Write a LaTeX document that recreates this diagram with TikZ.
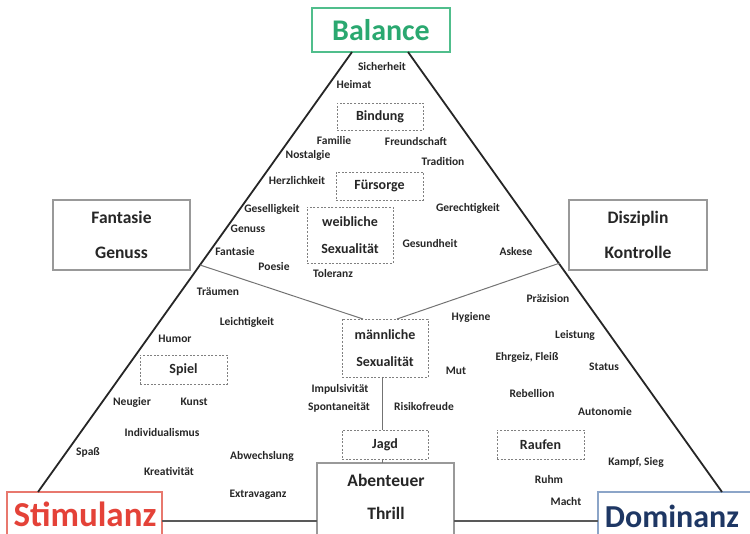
\documentclass[tikz,border=0pt]{standalone}
\usepackage{fontspec}
\setmainfont{Carlito}
\definecolor{balg}{RGB}{42,168,112}
\definecolor{balb}{RGB}{80,190,140}
\definecolor{stimr}{RGB}{228,66,56}
\definecolor{stimb}{RGB}{232,120,110}
\definecolor{domt}{RGB}{30,55,100}
\definecolor{domb}{RGB}{140,165,200}
\tikzset{
  word/.style={font=\bfseries\fontsize{11.5}{13}\selectfont, inner sep=0pt, text height=0.68em, text depth=0.2em, text=black!85},
  dbox/.style={draw=black!50, dash pattern=on 2pt off 1.6pt, line width=0.8pt, minimum width=86pt, font=\bfseries\fontsize{14}{27}\selectfont, align=center, text=black!85, inner sep=0pt},
  gbox/.style={draw=black!40, line width=1.4pt, fill=white, minimum width=137pt, minimum height=70pt, font=\bfseries\fontsize{17.5}{35}\selectfont, align=center, text=black!85, inner sep=0pt},
  edge/.style={line width=1.8pt, draw=black!85},
  divider/.style={line width=1pt, draw=black!55},
}
\begin{document}
\begin{tikzpicture}[x=1pt,y=-1pt]
\useasboundingbox (0,0) rectangle (750,534);
\begin{scope}
\clip (0,0) rectangle (750,534);
% title boxes
\node[draw=balb, line width=2pt, minimum width=138pt, minimum height=44pt, inner sep=0pt,
      font=\bfseries\fontsize{30}{32}\selectfont, text=balg] (bal) at (381,30) {Balance};
\node[draw=stimb, line width=1.8pt, fill=white, minimum width=155pt, minimum height=54pt, inner sep=0pt] (stim) at (84.5,519) {};
\node[draw=domb, line width=1.8pt, fill=white, minimum width=157pt, minimum height=54pt, inner sep=0pt] (dom) at (676.5,519) {};
% grey boxes
\node[gbox] (fg) at (121.5,235) {Fantasie\\Genuss};
\node[gbox, minimum width=138pt] (dk) at (638,235) {Disziplin\\Kontrolle};
\node[gbox, minimum height=82pt] (abt) at (385.5,504) {};
\end{scope}
\node[font=\bfseries\fontsize{35}{36}\selectfont, text=stimr, inner sep=0pt, anchor=base] (stimtext) at (85,526) {Stimulanz};
\node[font=\bfseries\fontsize{32}{34}\selectfont, text=domt, inner sep=0pt, anchor=base] (domtext) at (672,527) {Dominanz};
\node[font=\bfseries\fontsize{17.5}{35}\selectfont, text=black!85, inner sep=0pt] (abtt) at (386,480) {Abenteuer};
\node[font=\bfseries\fontsize{17.5}{35}\selectfont, text=black!85, inner sep=0pt] (thr) at (386,513) {Thrill};
% dashed boxes
\node[dbox, minimum height=27pt] (bind) at (380,116.5) {Bindung};
\node[dbox, minimum height=28pt, minimum width=87pt] (fuer) at (379.5,186) {Fürsorge};
\node[dbox, minimum height=56pt] (weib) at (350,235) {weibliche\\Sexualität};
\node[dbox, minimum height=58pt] (maen) at (385,348) {männliche\\Sexualität};
\node[dbox, minimum height=29pt, minimum width=87pt] (spiel) at (183.5,369.5) {Spiel};
\node[dbox, minimum height=29pt] (jagd) at (385,444.5) {Jagd};
\node[dbox, minimum height=29pt, minimum width=87pt] (rauf) at (540.5,444.5) {Raufen};
% corner coordinates of the triangle
\coordinate (tl) at (352,52);
\coordinate (tr) at (408,52);
\coordinate (bl) at (38,492);
\coordinate (br) at (722,492);
\coordinate (dl) at (200,265);
\coordinate (dr) at (560,263);
\coordinate (ml) at (363,319);
\coordinate (mr) at (397,319);
\coordinate (mb) at (382,377);
\coordinate (jt) at (382,430);
\coordinate (jb) at (382,459);
\coordinate (at) at (382,463);
\coordinate (sl) at (162,521);
\coordinate (al) at (317,521);
\coordinate (ar) at (454,521);
\coordinate (dlft) at (598,521);
\draw[edge] (tl) -- (bl);
\draw[edge] (tr) -- (br);
\draw[line width=2.6pt, draw=black!65] (sl) -- (al);
\draw[line width=2.6pt, draw=black!65] (ar) -- (dlft);
\draw[divider] (dl) -- (ml);
\draw[divider] (dr) -- (mr);
\draw[divider] (mb) -- (jt);
\draw[divider] (jb) -- (at);
% words
\node[word] (w1) at (382,68) {Sicherheit};
\node[word] (w2) at (354,86) {Heimat};
\node[word] (w3) at (334,142) {Familie};
\node[word] (w4) at (416,143) {Freundschaft};
\node[word] (w5) at (308,156) {Nostalgie};
\node[word] (w6) at (443,163) {Tradition};
\node[word] (w7) at (297,182) {Herzlichkeit};
\node[word] (w8) at (272,210) {Geselligkeit};
\node[word] (w9) at (468,209) {Gerechtigkeit};
\node[word] (w10) at (248,230) {Genuss};
\node[word] (w11) at (430,245) {Gesundheit};
\node[word] (w12) at (235,253) {Fantasie};
\node[word] (w13) at (516,253) {Askese};
\node[word] (w14) at (274,268) {Poesie};
\node[word] (w15) at (333,275) {Toleranz};
\node[word] (w16) at (218,293) {Träumen};
\node[word] (w17) at (548,300) {Präzision};
\node[word] (w18) at (471,318) {Hygiene};
\node[word] (w19) at (247,323) {Leichtigkeit};
\node[word] (w20) at (575,336) {Leistung};
\node[word] (w21) at (175,340) {Humor};
\node[word] (w22) at (527,358) {Ehrgeiz, Fleiß};
\node[word] (w23) at (604,368) {Status};
\node[word] (w24) at (456,372) {Mut};
\node[word] (w25) at (340,390) {Impulsivität};
\node[word] (w26) at (532,395) {Rebellion};
\node[word] (w27) at (132,403) {Neugier};
\node[word] (w28) at (194,403) {Kunst};
\node[word] (w29) at (339,408) {Spontaneität};
\node[word] (w30) at (424,408) {Risikofreude};
\node[word] (w31) at (605,413) {Autonomie};
\node[word] (w32) at (162,434) {Individualismus};
\node[word] (w33) at (88,453) {Spaß};
\node[word] (w34) at (262,457) {Abwechslung};
\node[word] (w35) at (636,463) {Kampf, Sieg};
\node[word] (w36) at (169,473) {Kreativität};
\node[word] (w37) at (549,481) {Ruhm};
\node[word] (w38) at (258,495) {Extravaganz};
\node[word] (w39) at (566,503) {Macht};
\end{tikzpicture}
\end{document}
